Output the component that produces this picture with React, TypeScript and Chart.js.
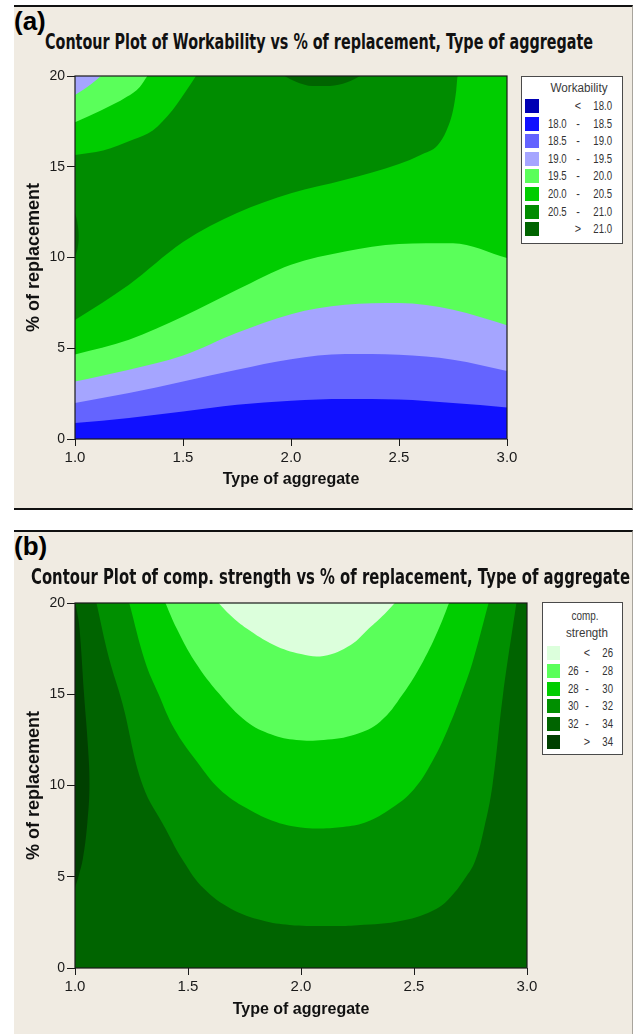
import React, { useEffect, useRef } from 'react';
import { Chart, registerables } from 'chart.js';

Chart.register(...registerables);

type Pt = [number, number];

// ---------------- Panel (a): Workability ----------------
const aXs = [1.0, 1.25, 1.5, 1.75, 2.0, 2.25, 2.5, 2.75, 3.0];
const aLevel18_5 = [0.88, 1.16, 1.52, 1.89, 2.11, 2.2, 2.17, 1.98, 1.74];
const aLevel19_0 = [1.98, 2.53, 3.17, 3.82, 4.4, 4.68, 4.64, 4.37, 3.75];
const aLevel19_5 = [3.17, 3.82, 4.6, 5.85, 6.88, 7.39, 7.49, 7.12, 6.27];
const aLevel20_0 = [4.65, 5.47, 6.75, 8.22, 9.6, 10.33, 10.75, 10.79, 9.97];
const aLevel20_5Lower: Pt[] = [
  [1.0, 6.55], [1.25, 8.5], [1.5, 10.85], [1.75, 12.45], [2.0, 13.54], [2.25, 14.28],
  [2.5, 15.15], [2.6, 15.65], [2.68, 16.2], [2.72, 17.0], [2.75, 18.1], [2.765, 19.2],
  [2.772, 20], [3.0, 20],
];
const aLevel20_5Upper: Pt[] = [[1.0, 15.65], [1.13, 15.9], [1.27, 16.5], [1.36, 17.0], [1.45, 18.1], [1.51, 19.1], [1.56, 20]];
const aLevel20_0Upper: Pt[] = [[1.0, 17.45], [1.12, 18.1], [1.24, 18.85], [1.3, 19.4], [1.335, 20]];
const aLevel19_5Upper: Pt[] = [[1.0, 18.95], [1.04, 19.25], [1.08, 19.6], [1.12, 20]];
const aPeakTop: Pt[] = [[1.97, 20], [2.02, 19.7], [2.1, 19.45], [2.18, 19.45], [2.26, 19.65], [2.32, 20]];
const aPeakLeft: Pt[] = [[1.0, 12.45], [1.01, 12.0], [1.017, 11.2], [1.012, 10.5], [1.0, 10.05]];
const aColors = ['#0000b4', '#1010ff', '#6464ff', '#a5a5ff', '#5aff5a', '#00cd00', '#008c00', '#006400'];
const aLegendRows = [
  ['', '<', '18.0'], ['18.0', '-', '18.5'], ['18.5', '-', '19.0'], ['19.0', '-', '19.5'],
  ['19.5', '-', '20.0'], ['20.0', '-', '20.5'], ['20.5', '-', '21.0'], ['', '>', '21.0'],
];

// ---------------- Panel (b): comp. strength ----------------
const bLevel34: Pt[] = [[1.0, 20], [1.008, 19.6], [1.02, 18.6], [1.04, 15], [1.058, 12], [1.064, 10], [1.055, 8], [1.035, 6], [1.015, 5], [1.0, 4.4]];
const bLevel32: Pt[] = [
  [1.095, 20], [1.15, 17], [1.21, 14.5], [1.3, 10], [1.4, 7.65], [1.48, 5.85], [1.57, 4.35], [1.69, 3.25],
  [1.83, 2.6], [1.95, 2.36], [2.1, 2.3], [2.25, 2.34], [2.45, 2.6], [2.6, 3.25], [2.67, 4.0], [2.725, 4.9],
  [2.77, 5.85], [2.81, 7.65], [2.847, 10], [2.894, 15], [2.953, 20],
];
const bLevel30: Pt[] = [
  [1.24, 20], [1.31, 16.8], [1.37, 15], [1.44, 13.1], [1.54, 11.3], [1.64, 9.8], [1.76, 8.75], [1.89, 8.0],
  [2.0, 7.7], [2.1, 7.65], [2.2, 7.75], [2.29, 8.0], [2.4, 8.75], [2.5, 9.8], [2.58, 11.3], [2.65, 13.1],
  [2.71, 15], [2.76, 16.8], [2.83, 20],
];
const bLevel28: Pt[] = [
  [1.4, 20], [1.45, 18.6], [1.53, 16.8], [1.64, 15.0], [1.76, 13.5], [1.87, 12.8], [1.98, 12.5], [2.1, 12.5],
  [2.24, 12.8], [2.35, 13.5], [2.45, 15.0], [2.54, 16.8], [2.61, 18.6], [2.655, 20],
];
const bLevel26: Pt[] = [
  [1.635, 20], [1.69, 19.3], [1.76, 18.6], [1.88, 17.7], [2.0, 17.2], [2.1, 17.1], [2.22, 17.7], [2.3, 18.6],
  [2.37, 19.4], [2.415, 20],
];
const bColors = ['#dcffdc', '#5aff5a', '#00cd00', '#008f00', '#006400', '#004000'];
const bLegendRows = [['', '<', '26'], ['26', '-', '28'], ['28', '-', '30'], ['30', '-', '32'], ['32', '-', '34'], ['', '>', '34']];

// ---------------- Shared axes ----------------
const plotFloor: Pt[] = [[1.0, 0], [3.0, 0]];
const xTickValues = [1.0, 1.5, 2.0, 2.5, 3.0];
const xTickLabels = ['1.0', '1.5', '2.0', '2.5', '3.0'];
const yTickValues = [0, 5, 10, 15, 20];
const yTickLabels = ['0', '5', '10', '15', '20'];
const xTitle = 'Type of aggregate';
const yTitle = '% of replacement';
const titleA = 'Contour Plot of Workability vs % of replacement, Type of aggregate';
const titleB = 'Contour Plot of comp. strength vs % of replacement, Type of aggregate';

const FONT_NARROW = "'Liberation Sans Narrow', 'Liberation Sans', Arial, sans-serif";
const FONT_SANS = "'Liberation Sans', Arial, sans-serif";
const FONT_TITLE = "'DejaVu Sans', Verdana, sans-serif";

const zip = (xs: number[], ys: number[]): Pt[] => xs.map((x, i) => [x, ys[i]]);

type Layer = { pts: Pt[]; color: string; fill: 'end' | 'shape'; mono: boolean };

const aLayers: Layer[] = [
  { pts: plotFloor, color: aColors[1], fill: 'end', mono: true },
  { pts: zip(aXs, aLevel18_5), color: aColors[2], fill: 'end', mono: true },
  { pts: zip(aXs, aLevel19_0), color: aColors[3], fill: 'end', mono: true },
  { pts: zip(aXs, aLevel19_5), color: aColors[4], fill: 'end', mono: true },
  { pts: zip(aXs, aLevel20_0), color: aColors[5], fill: 'end', mono: true },
  { pts: aLevel20_5Lower, color: aColors[6], fill: 'end', mono: true },
  { pts: aLevel20_5Upper, color: aColors[5], fill: 'end', mono: true },
  { pts: aLevel20_0Upper, color: aColors[4], fill: 'end', mono: true },
  { pts: aLevel19_5Upper, color: aColors[3], fill: 'end', mono: true },
  { pts: aPeakTop, color: aColors[7], fill: 'end', mono: true },
  { pts: aPeakLeft, color: aColors[7], fill: 'shape', mono: false },
];

const bLayers: Layer[] = [
  { pts: plotFloor, color: bColors[4], fill: 'end', mono: true },
  { pts: bLevel34, color: bColors[5], fill: 'shape', mono: false },
  { pts: bLevel32, color: bColors[3], fill: 'shape', mono: false },
  { pts: bLevel30, color: bColors[2], fill: 'shape', mono: false },
  { pts: bLevel28, color: bColors[1], fill: 'shape', mono: false },
  { pts: bLevel26, color: bColors[0], fill: 'shape', mono: false },
];

function buildDatasets(layers: Layer[]) {
  const n = layers.length;
  return layers.map((L, i) => ({
    data: L.pts.map(([x, y]) => ({ x, y })),
    backgroundColor: L.color,
    borderColor: L.color,
    borderWidth: 0,
    pointRadius: 0,
    pointHoverRadius: 0,
    fill: L.fill,
    tension: 0.4,
    cubicInterpolationMode: L.mono ? 'monotone' : 'default',
    order: n - i,
  }));
}

const framePlugin = {
  id: 'frame',
  afterDatasetsDraw(chart: any) {
    const { ctx, chartArea } = chart;
    const { left, top, right, bottom } = chartArea;
    ctx.save();
    ctx.strokeStyle = '#1a1a1a';
    ctx.lineWidth = 1.2;
    ctx.strokeRect(left, top, right - left, bottom - top);
    ctx.restore();
  },
};

type Spec = {
  left: number; top: number; w: number; h: number;
  padTop: number; padRight: number; yAxisW: number; xAxisH: number; xTitlePad: number;
  layers: Layer[];
};

function ContourCanvas({ spec }: { spec: Spec }) {
  const ref = useRef<HTMLCanvasElement>(null);
  useEffect(() => {
    if (!ref.current) return;
    const chart = new Chart(ref.current, {
      type: 'line',
      data: { datasets: buildDatasets(spec.layers) as any },
      options: {
        animation: false,
        responsive: false,
        maintainAspectRatio: false,
        devicePixelRatio: 1,
        events: [],
        layout: { padding: { left: 0, top: spec.padTop, right: spec.padRight, bottom: 0 } },
        plugins: { legend: { display: false }, tooltip: { enabled: false }, title: { display: false } },
        scales: {
          x: {
            type: 'linear',
            min: 1,
            max: 3,
            afterBuildTicks: (s: any) => { s.ticks = xTickValues.map((value) => ({ value })); },
            afterFit: (s: any) => { s.height = spec.xAxisH; },
            ticks: {
              callback: (_v: any, i: number) => xTickLabels[i],
              font: { family: FONT_NARROW, size: 15 },
              color: '#1a1a1a',
              padding: 3,
              maxRotation: 0,
              autoSkip: false,
            },
            grid: { drawOnChartArea: false, drawTicks: true, tickLength: 7, color: '#1a1a1a', lineWidth: 1 },
            border: { display: false },
            title: {
              display: true,
              text: xTitle,
              color: '#111',
              font: { family: FONT_NARROW, size: 16, weight: 'bold', lineHeight: 1.2 },
              padding: { top: 0, bottom: spec.xTitlePad },
            },
          },
          y: {
            type: 'linear',
            min: 0,
            max: 20,
            afterBuildTicks: (s: any) => { s.ticks = yTickValues.map((value) => ({ value })); },
            afterFit: (s: any) => { s.width = spec.yAxisW; },
            ticks: {
              callback: (_v: any, i: number) => yTickLabels[i],
              font: { family: FONT_NARROW, size: 14 },
              color: '#1a1a1a',
              padding: 2,
              autoSkip: false,
            },
            grid: { drawOnChartArea: false, drawTicks: true, tickLength: 8, color: '#1a1a1a', lineWidth: 1 },
            border: { display: false },
            title: {
              display: true,
              text: yTitle,
              color: '#111',
              font: { family: FONT_SANS, size: 18, weight: 'bold', lineHeight: 1.2 },
              padding: { top: 9, bottom: 0 },
            },
          },
        },
      } as any,
      plugins: [framePlugin],
    });
    return () => chart.destroy();
  }, [spec]);
  return (
    <canvas
      ref={ref}
      width={spec.w}
      height={spec.h}
      style={{ position: 'absolute', left: spec.left, top: spec.top, width: spec.w, height: spec.h }}
    />
  );
}

let measureCtx: CanvasRenderingContext2D | null = null;
function measure(text: string, font: string) {
  if (!measureCtx) {
    try { measureCtx = document.createElement('canvas').getContext('2d'); } catch { measureCtx = null; }
  }
  if (!measureCtx) return 0;
  measureCtx.font = font;
  return measureCtx.measureText(text).width;
}

function Txt({ text, x, y, font, align = 'left', w, sx, color = '#111' }:
  { text: string; x: number; y: number; font: string; align?: 'left' | 'right' | 'center'; w?: number; sx?: number; color?: string }) {
  let s = sx ?? 1;
  if (w) { const m = measure(text, font); if (m > 0) s = w / m; }
  const tx = align === 'left' ? '0' : align === 'right' ? '-100%' : '-50%';
  const ox = align === 'left' ? 'left' : align === 'right' ? 'right' : 'center';
  return (
    <div style={{
      position: 'absolute', left: x, top: y, font, lineHeight: 1, whiteSpace: 'nowrap', color,
      transform: `translate(${tx}, -50%) scaleX(${s})`, transformOrigin: `${ox} center`,
    }}>{text}</div>
  );
}

function Legend({ box, titles, rows, colors, rowY0, rowStep, swatchX, swatchW, leftX, midX, rightX }: any) {
  const numFont = `12px ${FONT_SANS}`;
  return (
    <>
      <div style={{
        position: 'absolute', left: box[0], top: box[1], width: box[2], height: box[3], boxSizing: 'border-box',
        background: '#ffffff', border: '1px solid #4a4a4a',
      }} />
      {titles.map((t: any, i: number) => (
        <Txt key={'t' + i} text={t[0]} x={t[1]} y={t[2]} font={`12px ${FONT_SANS}`} align="center" w={t[3]} color="#3a3a3a" />
      ))}
      {rows.map((r: string[], i: number) => {
        const yc = rowY0 + i * rowStep;
        return (
          <React.Fragment key={'r' + i}>
            <div style={{ position: 'absolute', left: swatchX, top: yc - 7, width: swatchW, height: 14, background: colors[i] }} />
            {r[0] ? <Txt text={r[0]} x={leftX} y={yc} font={numFont} align="left" sx={0.8} color="#333" /> : null}
            <Txt text={r[1]} x={midX} y={yc} font={numFont} align="center" sx={0.9} color="#333" />
            <Txt text={r[2]} x={rightX} y={yc} font={numFont} align="right" sx={0.8} color="#333" />
          </React.Fragment>
        );
      })}
    </>
  );
}

const specA: Spec = { left: 14, top: 60, w: 510, h: 445, padTop: 16, padRight: 17, yAxisW: 61, xAxisH: 66, xTitlePad: 15.4, layers: aLayers };
const specB: Spec = { left: 14, top: 587, w: 530, h: 445, padTop: 16, padRight: 17, yAxisW: 61, xAxisH: 64, xTitlePad: 12.4, layers: bLayers };

export default function App() {
  const beige = '#f0ebe2';
  return (
    <div style={{ position: 'absolute', left: 0, top: 0, width: 639, height: 1034, overflow: 'hidden', background: '#ffffff' }}>
      {/* panel (a) */}
      <div style={{
        position: 'absolute', left: 14, top: 5, width: 619, height: 505, boxSizing: 'border-box', background: beige,
        borderTop: '2px solid #111', borderBottom: '2px solid #111', borderRight: '1px solid #a8a49c',
      }} />
      {/* panel (b) */}
      <div style={{
        position: 'absolute', left: 14, top: 530, width: 619, height: 506, boxSizing: 'border-box', background: beige,
        borderTop: '2px solid #111', borderRight: '1px solid #a8a49c',
      }} />

      <ContourCanvas spec={specA} />
      <ContourCanvas spec={specB} />

      <Txt text="(a)" x={14} y={20.5} font={`bold 26px ${FONT_SANS}`} color="#000" />
      <Txt text={titleA} x={45} y={42} font={`bold 22px ${FONT_TITLE}`} w={548} color="#111" />
      <Txt text="(b)" x={14} y={546} font={`bold 26px ${FONT_SANS}`} color="#000" />
      <Txt text={titleB} x={31} y={577} font={`bold 22px ${FONT_TITLE}`} w={599} color="#111" />

      <Legend
        box={[521, 76, 102, 168]}
        titles={[['Workability', 579, 88, 57]]}
        rows={aLegendRows}
        colors={aColors}
        rowY0={106}
        rowStep={17.6}
        swatchX={525}
        swatchW={14}
        leftX={548}
        midX={578}
        rightX={612}
      />
      <Legend
        box={[542, 602, 81, 153]}
        titles={[['comp.', 585, 616, 27], ['strength', 587, 633, 42]]}
        rows={bLegendRows}
        colors={bColors}
        rowY0={653}
        rowStep={17.8}
        swatchX={547}
        swatchW={13}
        leftX={568}
        midX={587}
        rightX={613}
      />
    </div>
  );
}
